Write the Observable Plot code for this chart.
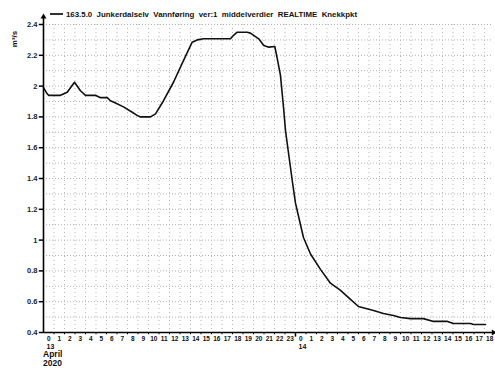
<!DOCTYPE html>
<html>
<head>
<meta charset="utf-8">
<script src="https://cdn.jsdelivr.net/npm/d3@7"></script>
<script src="https://cdn.jsdelivr.net/npm/@observablehq/plot@0.6"></script>
<style>
  html, body { margin: 0; padding: 0; background: #fff; }
  svg { display: block; }
</style>
</head>
<body>
<div id="chart"></div>
<script>
// Hours since 13 April 2020 00:00
const hours = [0, 0.35, 0.5, 1.62, 2.26, 2.95, 3.52, 4.0, 4.95, 5.43, 6.07, 6.38, 6.86, 7.62, 8.45, 8.92, 9.24, 10.19, 10.67, 11.43, 12.38, 13.33, 14.16, 14.64, 15.24, 17.81, 18.1, 18.45, 19.4, 19.71, 20.5, 20.98, 21.46, 22.03, 22.26, 22.57, 22.89, 23.05, 23.69, 24.0, 24.76, 25.43, 26.38, 27.33, 28.29, 29.24, 30.0, 31.43, 32.38, 33.33, 34.0, 34.95, 36.19, 37.14, 38.48, 39.05, 40.67, 40.95, 42.1];
// Discharge m3/s
const flow = [1.99, 1.95, 1.94, 1.94, 1.96, 2.025, 1.97, 1.94, 1.94, 1.925, 1.925, 1.905, 1.89, 1.865, 1.83, 1.81, 1.80, 1.80, 1.82, 1.905, 2.025, 2.165, 2.285, 2.30, 2.307, 2.307, 2.33, 2.35, 2.35, 2.344, 2.307, 2.264, 2.253, 2.257, 2.18, 2.07, 1.84, 1.71, 1.387, 1.24, 1.017, 0.91, 0.81, 0.72, 0.673, 0.615, 0.569, 0.543, 0.523, 0.51, 0.497, 0.49, 0.49, 0.472, 0.472, 0.458, 0.458, 0.452, 0.452];

const yTicks = [0.4, 0.6, 0.8, 1.0, 1.2, 1.4, 1.6, 1.8, 2.0, 2.2, 2.4];
const yTickLabels = ["0.4", "0.6", "0.8", "1", "1.2", "1.4", "1.6", "1.8", "2", "2.2", "2.4"];
const hourLabels = ["0","1","2","3","4","5","6","7","8","9","10","11","12","13","14","15","16","17","18","19","20","21","22","23",
                    "0","1","2","3","4","5","6","7","8","9","10","11","12","13","14","15","16","17","18"];
const dayLabels = ["13", "14"];
const dateLines = ["April", "2020"];
const title = "163.5.0  Junkerdalselv  Vannføring  ver:1  middelverdier  REALTIME  Knekkpkt";
const unitLabel = "m³/s";

const xMax = 42.86;
const data = hours.map((h, i) => ({h, v: flow[i]}));
const hourIdx = hourLabels.map((_, i) => i);
const gridX = d3.range(1, 43);
const gridYMinor = d3.range(0.5, 2.41, 0.1).map(d => +d.toFixed(2));
const font = "Liberation Sans, Arial, sans-serif";

const plot = Plot.plot({
  width: 495,
  height: 368,
  marginLeft: 43,
  marginRight: 2,
  marginTop: 24,
  marginBottom: 36,
  style: {fontFamily: font, fontSize: "7px", background: "#fff"},
  x: {type: "linear", domain: [0, xMax], axis: null},
  y: {type: "linear", domain: [0.4, 2.4], axis: null},
  marks: [
    Plot.ruleY(gridYMinor, {stroke: "#b0b0b0", strokeDasharray: "1,2", strokeWidth: 1}),
    Plot.ruleX(gridX, {stroke: "#b8b8b8", strokeDasharray: "1,3", strokeWidth: 1}),
    Plot.line(data, {x: "h", y: "v", stroke: "#111", strokeWidth: 1.6, curve: "linear"}),
    // axes
    Plot.ruleX([0], {y1: 0.4, y2: 2.45, stroke: "#000", strokeWidth: 1.6, clip: false}),
    Plot.ruleY([0.4], {x1: 0, x2: xMax, stroke: "#000", strokeWidth: 1.6, clip: false}),
    Plot.dot([0], {x: () => 0, y: () => 2.45, symbol: "triangle", r: 2.2, fill: "#000", stroke: null}),
    Plot.dot([0], {x: () => xMax, y: () => 0.4, symbol: "triangle", r: 2.2, fill: "#000", stroke: null, rotate: 90}),
    // y ticks and labels
    Plot.ruleY(yTicks, {x1: () => 0, x2: () => -0.4, stroke: "#000", strokeWidth: 1.5}),
    Plot.text(yTicks, {x: () => 0, y: d => d, text: (d, i) => yTickLabels[i], dx: -6, textAnchor: "end", fill: "#222", fontWeight: "bold", fontSize: 7.5}),
    // x ticks
    Plot.ruleX(gridX, {y1: () => 0.4, y2: () => 0.385, stroke: "#000", strokeWidth: 1}),
    Plot.ruleX([24], {y1: () => 0.4, y2: () => 0.37, stroke: "#000", strokeWidth: 1.5}),
    Plot.text(hourIdx, {x: i => i + 0.5, y: () => 0.4, text: i => hourLabels[i], dy: 6, fill: "#111", fontWeight: "bold", fontSize: 6.5}),
    Plot.text([0, 1], {x: i => i * 24, y: () => 0.4, text: i => dayLabels[i], dy: 14.5, dx: 3, textAnchor: "start", fill: "#111", fontWeight: "bold", fontSize: 7})
  ]
});

document.getElementById("chart").appendChild(plot);

const svg = d3.select(plot);
// date lines under the 13
dateLines.forEach((t, i) => {
  svg.append("text").attr("x", 43).attr("y", 357 + i * 9).attr("text-anchor", "start").attr("font-family", font).attr("font-size", 8.5)
    .attr("font-weight", "bold").attr("fill", "#111").text(t);
});
// legend title
svg.append("line").attr("x1", 50).attr("x2", 63).attr("y1", 14).attr("y2", 14).attr("stroke", "#000").attr("stroke-width", 1.6);
svg.append("text").attr("x", 66).attr("y", 17).attr("text-anchor", "start").attr("font-family", font).attr("font-size", 8)
  .attr("font-weight", "bold").attr("fill", "#111").attr("textLength", 291).attr("lengthAdjust", "spacingAndGlyphs").text(title);
// unit label
svg.append("text").attr("transform", "translate(17,39) rotate(-90)").attr("text-anchor", "middle")
  .attr("font-family", font).attr("font-size", 8).attr("font-weight", "bold").attr("fill", "#111").text(unitLabel);
</script>
</body>
</html>
